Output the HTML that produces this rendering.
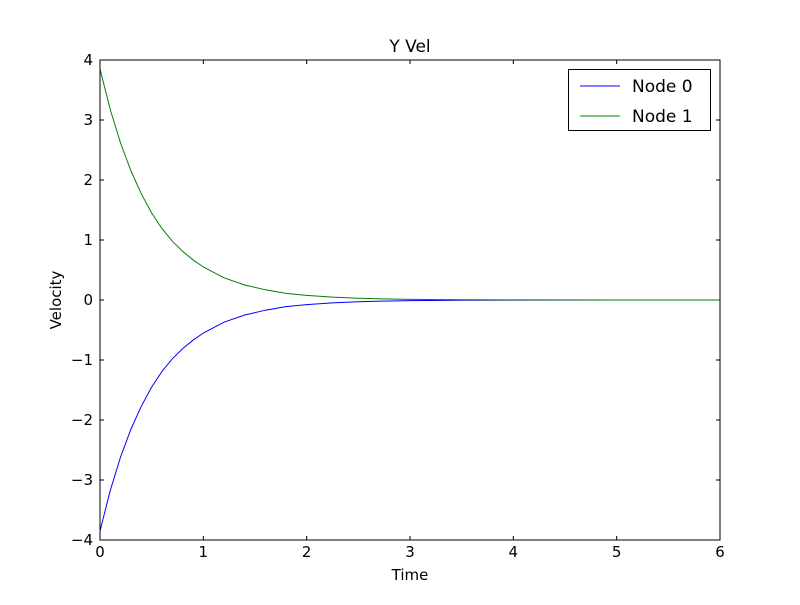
<!DOCTYPE html>
<html><head><meta charset="utf-8"><style>
body{margin:0;background:#fff;}
svg text{font-family:"DejaVu Sans","Liberation Sans",sans-serif;fill:#000;}
</style></head><body>
<svg id="chart" width="800" height="600" xmlns="http://www.w3.org/2000/svg">
<rect width="800" height="600" fill="#fff"/>
<text x="410" y="52" font-size="17" text-anchor="middle">Y Vel</text>
<text x="410" y="580" font-size="15" text-anchor="middle">Time</text>
<text x="61" y="300" font-size="15" text-anchor="middle" transform="rotate(-90 61 300)">Velocity</text>
<g id="ticks"></g>
<g id="lines"></g>
<rect x="100" y="60" width="620" height="480" fill="none" stroke="#000" stroke-width="1"/>
<g>
<rect x="568.5" y="69.5" width="142" height="61" fill="#fff" stroke="#000"/>
<line x1="580" y1="86" x2="620" y2="86" stroke="#0000ff"/>
<text x="632" y="92" font-size="17">Node 0</text>
<line x1="580" y1="116" x2="620" y2="116" stroke="#008000"/>
<text x="632" y="122" font-size="17">Node 1</text>
</g>
</svg>
<script>
const times=[0,0.1,0.2,0.3,0.4,0.5,0.6,0.7,0.8,0.9,1.0,1.2,1.4,1.6,1.8,2.0,2.25,2.5,2.75,3.0,3.5,4.0,5.0,6.0];
const node1=[3.85,3.17,2.61,2.15,1.77,1.45,1.19,0.98,0.81,0.67,0.55,0.37,0.25,0.17,0.11,0.077,0.048,0.03,0.018,0.011,0.004,0.0016,0.0002,0];
const node0=[-3.85,-3.17,-2.61,-2.15,-1.77,-1.45,-1.19,-0.98,-0.81,-0.67,-0.55,-0.37,-0.25,-0.17,-0.11,-0.077,-0.048,-0.03,-0.018,-0.011,-0.004,-0.0016,-0.0002,0];
const xTicks=[0,1,2,3,4,5,6];
const yTicks=[-4,-3,-2,-1,0,1,2,3,4];
const NS="http://www.w3.org/2000/svg";
const xs=v=>100+v/6*620, ys=v=>300-v/8*480;
const tg=document.getElementById('ticks'), lg=document.getElementById('lines');
function mk(tag,attrs,parent){const e=document.createElementNS(NS,tag);for(const k in attrs)e.setAttribute(k,attrs[k]);parent.appendChild(e);return e;}
xTicks.forEach(t=>{
  const x=xs(t);
  const a=mk('line',{x1:x,y1:540,x2:x,y2:536,stroke:'#000'},tg);
  
  
  const b=mk('line',{x1:x,y1:60,x2:x,y2:64,stroke:'#000'},tg);
  
  
  const l=mk('text',{x:x,y:557,'font-size':15,'text-anchor':'middle'},tg);l.textContent=t;
  
  
});
yTicks.forEach(t=>{
  const y=ys(t);
  const a=mk('line',{x1:100,y1:y,x2:104,y2:y,stroke:'#000'},tg);
  
  
  const b=mk('line',{x1:720,y1:y,x2:716,y2:y,stroke:'#000'},tg);
  
  
  const l=mk('text',{x:93,y:y+5,'font-size':15,'text-anchor':'end'},tg);l.textContent=(t<0?'\u2212'+(-t):t);
  
  
});
function path(vals,color,name){
  const d=vals.map((v,i)=>(i?'L':'M')+xs(times[i]).toFixed(2)+','+ys(v).toFixed(2)).join(' ');
  const p=mk('path',{d:d,fill:'none',stroke:color,'stroke-width':1},lg);
  
  
}
path(node0,'#0000ff','line-node-0');
path(node1,'#008000','line-node-1');
</script>
</body></html>
